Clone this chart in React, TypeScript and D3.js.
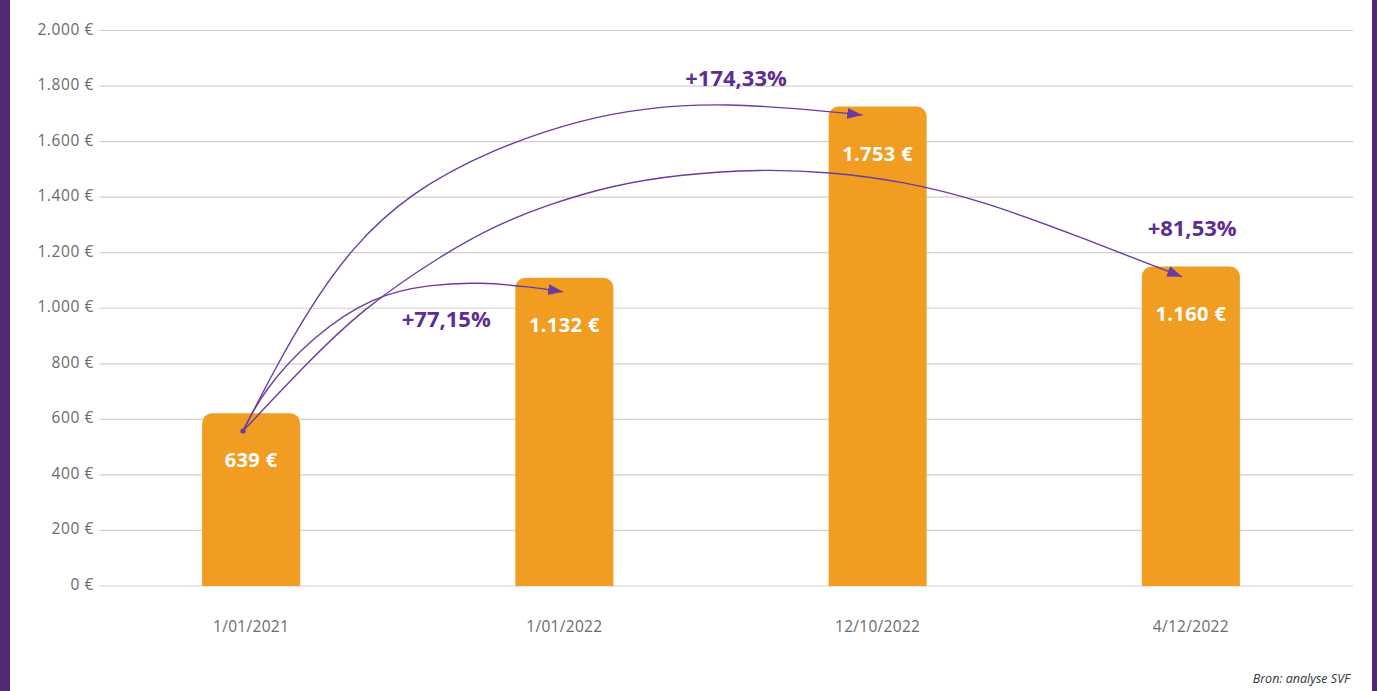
import React from "react";
import * as d3 from "d3";

const categories = ["1/01/2021", "1/01/2022", "12/10/2022", "4/12/2022"];
const barValues = [622, 1110, 1726, 1150];
const valueLabels = ["639 €", "1.132 €", "1.753 €", "1.160 €"];
const yTicks = [0, 200, 400, 600, 800, 1000, 1200, 1400, 1600, 1800, 2000];
const growthLabels = ["+77,15%", "+174,33%", "+81,53%"];
// label anchors: [category offset from first bar, value]
const growthLabelPos: [number, number][] = [
  [0.623, 932],
  [1.548, 1800],
  [3.004, 1260],
];
// annotation arrow paths: [category offset from first bar, value]
const arrow1: [number, number][] = [
  [-0.026, 558], [0.04, 706], [0.198, 900], [0.389, 1045], [0.571, 1086],
  [0.731, 1094], [0.891, 1077], [0.996, 1059],
];
const arrow2: [number, number][] = [
  [-0.026, 558], [0.188, 996], [0.518, 1408], [1.05, 1672],
  [1.52, 1732], [1.951, 1696],
];
const arrow3: [number, number][] = [
  [-0.026, 558], [0.178, 802], [0.353, 996], [0.614, 1196], [0.784, 1300],
  [0.944, 1372], [1.157, 1444], [1.37, 1482], [1.625, 1501], [1.848, 1491],
  [2.075, 1458], [2.327, 1390], [2.646, 1257], [2.972, 1113],
];
const arrows = [arrow1, arrow2, arrow3];
const source = "Bron: analyse SVF";

const W = 1377;
const H = 691;
const ORANGE = "#F09D22";
const PURPLE = "#5E2D93";
const LINE = "#6B3BA3";
const BORDER = "#522A74";
const FONT = "'Open Sans', 'DejaVu Sans', sans-serif";

function fmtTick(d: number) {
  if (d >= 1000) return `${Math.floor(d / 1000)}.${String(d % 1000).padStart(3, "0")} €`;
  return `${d} €`;
}

export default function App() {
  const x = d3
    .scaleBand<string>()
    .domain(categories)
    .range([94.5, 1347.5])
    .paddingInner(0.687)
    .paddingOuter(0.3435);
  const y = d3.scaleLinear().domain([0, 2000]).range([586, 30.5]);
  const bw = x.bandwidth();
  const c0 = (x(categories[0]) as number) + bw / 2;
  const px = (f: number) => c0 + f * x.step();

  const lineBasis = d3
    .line<[number, number]>()
    .x((d) => px(d[0]))
    .y((d) => y(d[1]))
    .curve(d3.curveBasis);
  const lineNatural = d3
    .line<[number, number]>()
    .x((d) => px(d[0]))
    .y((d) => y(d[1]))
    .curve(d3.curveNatural);

  const r = 10;
  const barPath = (i: number) => {
    const x0 = x(categories[i]) as number;
    const x1 = x0 + bw;
    const top = y(barValues[i]);
    const bot = y(0);
    const p = d3.path();
    p.moveTo(x0, bot);
    p.lineTo(x0, top + r);
    p.arcTo(x0, top, x0 + r, top, r);
    p.lineTo(x1 - r, top);
    p.arcTo(x1, top, x1, top + r, r);
    p.lineTo(x1, bot);
    p.closePath();
    return p.toString();
  };

  return (
    <div style={{ position: "absolute", left: 0, top: 0, width: W, height: H }}>
      <svg width={W} height={H} style={{ display: "block", background: "#fff" }}>
        <defs>
          <marker
            id="ah"
            markerUnits="userSpaceOnUse"
            markerWidth={16}
            markerHeight={12}
            refX={15}
            refY={5.5}
            orient="auto"
          >
            <path d="M0,0 L15,5.5 L0,11 Z" fill={LINE} />
          </marker>
        </defs>
        <rect x={0} y={0} width={10} height={H} fill={BORDER} />
        <rect x={1372} y={0} width={5} height={H} fill={BORDER} />

        {yTicks.map((t) => (
          <g key={t}>
            <line x1={99.5} x2={1353} y1={y(t)} y2={y(t)} stroke="#cfcfcf" strokeWidth={1.2} />
            <text
              x={94}
              y={y(t) + 4}
              textAnchor="end"
              fontFamily={FONT}
              fontSize={15.5}
              letterSpacing={0.6}
              fill="#6b6b6b"
            >
              {fmtTick(t)}
            </text>
          </g>
        ))}

        {categories.map((c, i) => (
          <g key={c}>
            <path d={barPath(i)} fill={ORANGE} />
            <text
              x={(x(c) as number) + bw / 2}
              y={y(barValues[i]) + 54}
              textAnchor="middle"
              fontFamily={FONT}
              fontWeight={700}
              fontSize={20}
              letterSpacing={0.4}
              fill="#fff"
            >
              {valueLabels[i]}
            </text>
            <text
              x={(x(c) as number) + bw / 2}
              y={632}
              textAnchor="middle"
              fontFamily={FONT}
              fontSize={15.5}
              letterSpacing={0.3}
              fill="#6b6b6b"
            >
              {c}
            </text>
          </g>
        ))}

        {arrows.map((a, i) => (
          <path
            key={i}
            d={(i === 1 ? lineNatural(a) : lineBasis(a)) as string}
            fill="none"
            stroke={LINE}
            strokeWidth={1.4}
            markerEnd="url(#ah)"
          />
        ))}
        <circle cx={px(arrow1[0][0])} cy={y(arrow1[0][1])} r={2.6} fill={LINE} />

        {growthLabels.map((g, i) => (
          <text
            key={g}
            x={px(growthLabelPos[i][0])}
            y={y(growthLabelPos[i][1])}
            textAnchor="middle"
            fontFamily={FONT}
            fontWeight={700}
            fontSize={22}
            fill={PURPLE}
          >
            {g}
          </text>
        ))}

        <text
          x={1350}
          y={683}
          textAnchor="end"
          fontFamily={FONT}
          fontStyle="italic"
          fontSize={12.5}
          fill="#333"
        >
          {source}
        </text>
      </svg>
    </div>
  );
}
